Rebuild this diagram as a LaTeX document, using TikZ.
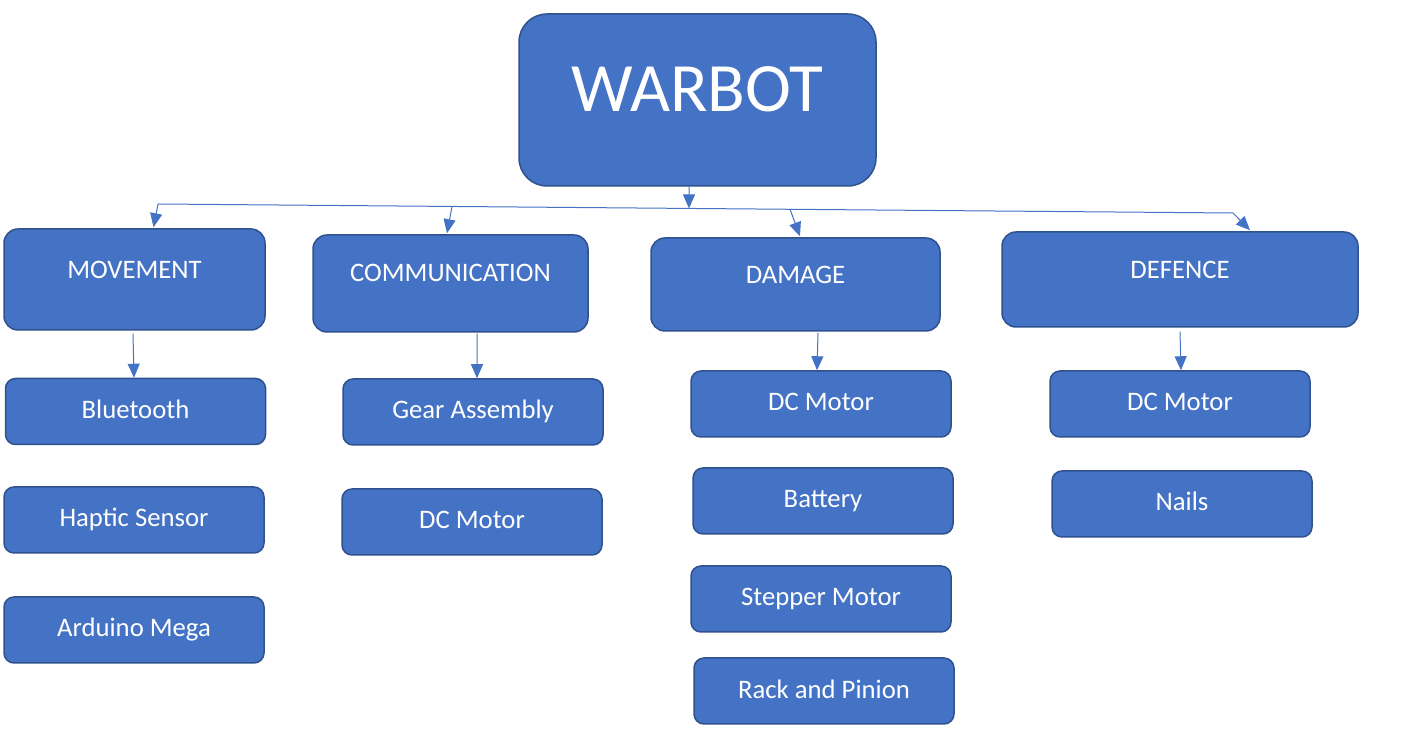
\documentclass[tikz,border=0pt]{standalone}
\usepackage{fontspec}
\setmainfont{Carlito}
\usetikzlibrary{arrows.meta,positioning}
\definecolor{boxfill}{HTML}{4472C4}
\definecolor{boxline}{HTML}{2F528F}
\tikzset{
  part/.style={draw=boxline,fill=boxfill,line width=1.5bp,rounded corners=10bp,
    text=white,minimum width=260bp,minimum height=66bp,inner sep=0pt,
    font=\fontsize{26.8}{30}\selectfont,text height=17bp,text depth=3bp},
  group/.style={part,rounded corners=14bp,text depth=19bp},
  link/.style={draw=boxfill,line width=1bp},
}
\begin{document}
\begin{tikzpicture}[>={Triangle[width=12bp,length=14bp]},line join=bevel]
\useasboundingbox (0bp,0bp) rectangle (1404bp,736bp);
%%
\node (warbot) at (697.5bp,636bp) [group,rounded corners=28bp,minimum width=357bp,minimum height=172bp,
  font=\fontsize{69.5}{72}\selectfont,text height=45bp,text depth=22bp] {WARBOT};
  \node (movement) at (134.5bp,456.5bp) [group,minimum width=261bp,minimum height=101bp] {MOVEMENT};
  \node (communication) at (450.5bp,452.5bp) [group,minimum width=275bp,minimum height=97bp,text depth=20bp] {COMMUNICATION};
  \node (damage) at (795.5bp,451.5bp) [group,minimum width=289bp,minimum height=93bp] {DAMAGE};
  \node (defence) at (1180bp,456.5bp) [group,minimum width=356bp,minimum height=95bp] {DEFENCE};
%
  \node (bluetooth) at (135.5bp,324.5bp) [part] {Bluetooth};
  \node (haptic) at (134bp,216bp) [part] {Haptic Sensor};
  \node (arduino) at (134bp,106bp) [part] {Arduino Mega};
  \node (gear) at (473bp,324bp) [part] {Gear Assembly};
  \node (commmotor) at (472bp,214bp) [part] {DC Motor};
  \node (damagemotor) at (821bp,332bp) [part] {DC Motor};
  \node (battery) at (823bp,235bp) [part] {Battery};
  \node (stepper) at (821bp,137bp) [part] {Stepper Motor};
  \node (rack) at (824bp,45bp) [part] {Rack and Pinion};
  \node (defencemotor) at (1180bp,332bp) [part] {DC Motor};
  \node (nails) at (1182bp,232bp) [part] {Nails};
%% trunk line under WARBOT
  \coordinate (trunkL) at (158bp,532bp);
  \coordinate (trunkR) at (1233bp,523bp);
  \coordinate (jointW) at (689bp,527.6bp);
  \coordinate (jointC) at (452bp,529.5bp);
  \coordinate (jointD) at (790bp,526.7bp);
  \draw [link] (trunkL) -- (trunkR);
  \draw [link,->] ([xshift=-8.5bp]warbot.south) -- (jointW);
  \draw [link,->] (trunkL) -- ([xshift=19bp,yshift=1bp]movement.north);
  \draw [link,->] (jointC) -- ([xshift=-3.5bp,yshift=1bp]communication.north);
  \draw [link,->] (jointD) -- ([xshift=4.5bp,yshift=1bp]damage.north);
  \draw [link,->] (trunkR) -- ([xshift=70bp,yshift=1bp]defence.north);
%% groups to parts
  \draw [link,->] ([xshift=-1.5bp,yshift=-3bp]movement.south) -- ([xshift=-1.5bp]bluetooth.north);
  \draw [link,->] ([xshift=26.5bp,yshift=-1bp]communication.south) -- ([xshift=4bp]gear.north);
  \draw [link,->] ([xshift=22.5bp,yshift=-1bp]damage.south) -- ([xshift=-4bp]damagemotor.north);
  \draw [link,->] ([yshift=-4bp]defence.south) -- ([xshift=1bp]defencemotor.north);
%
\end{tikzpicture}
\end{document}
